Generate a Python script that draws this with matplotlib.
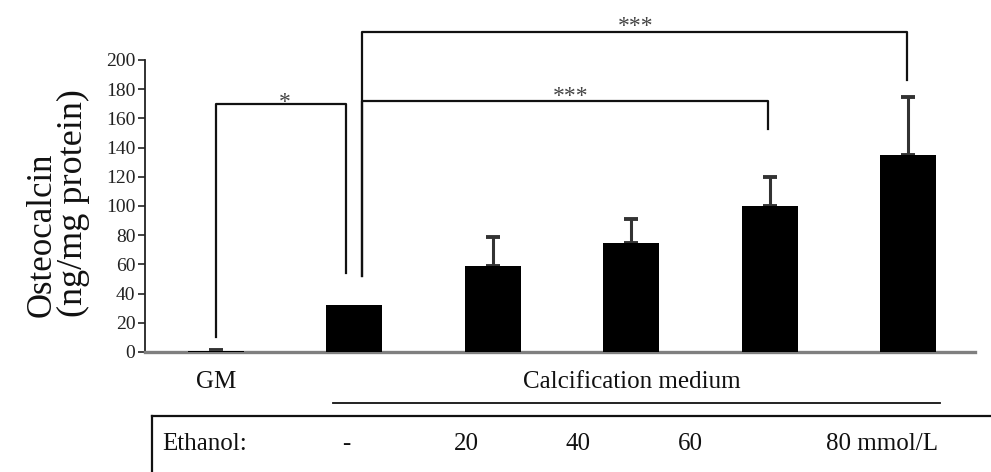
import numpy as np
import matplotlib
matplotlib.use("Agg")
import matplotlib.pyplot as plt
from matplotlib.lines import Line2D

plt.rcParams["font.family"] = ["Liberation Serif", "DejaVu Serif"]

# osteocalcin per group (ng/mg protein), upper error bars (SD)
groups = ["GM", "CM", "CM+20", "CM+40", "CM+60", "CM+80"]
means = [0.5, 32, 59, 75, 100, 135]
errors = [1.0, 0, 20, 16, 20, 40]

ethanol_row = ["Ethanol:", "-", "20", "40", "60", "80 mmol/L"]

W, H = 991, 472
fig = plt.figure(figsize=(W / 100, H / 100), dpi=100)
ax = fig.add_axes([145 / W, 1 - 352 / H, (975 - 145) / W, (352 - 60) / H])

x = np.arange(len(groups))
ax.bar(x, means, width=0.405, color="black", zorder=3)
has_err = [i for i, e in enumerate(errors) if e > 0]
ax.errorbar(x[has_err], np.array(means)[has_err],
            yerr=[np.zeros(len(has_err)), np.array(errors)[has_err]], fmt="none",
            ecolor="#333333", elinewidth=2.2, capsize=5, capthick=2.8, zorder=2)

ax.set_xlim(-0.513, 5.484)
ax.set_ylim(0, 200)
ax.set_yticks(np.arange(0, 201, 20))
ax.tick_params(axis="y", direction="out", length=5, width=1.2, pad=2,
               labelsize=14, colors="#222222")
ax.set_xticks([])
for s in ["top", "right"]:
    ax.spines[s].set_visible(False)
ax.spines["left"].set_color("#222222")
ax.spines["left"].set_linewidth(1.3)
ax.spines["bottom"].set_color("#7f7f7f")
ax.spines["bottom"].set_linewidth(2.4)


def bracket(x0, x1, y_left, y_top, y_right, label, lx, ly):
    ax.plot([x0, x0, x1, x1], [y_left, y_top, y_top, y_right], color="#111111",
            lw=1.6, clip_on=False, zorder=4)
    ax.text(lx, ly, label, ha="center", va="center", fontsize=17,
            color="#444444", clip_on=False)


bracket(0, 0.94, 10, 170, 54, "*", 0.5, 171)
bracket(1.055, 3.99, 52, 172, 153, "***", 2.56, 175)
bracket(1.055, 4.99, 52, 219, 186, "***", 3.03, 223)


def fx(px):
    return px / W


def fy(py):
    return 1 - py / H


# y axis title, two lines
fig.text(fx(42), fy(235), "Osteocalcin", rotation=90, ha="center",
         va="center", fontsize=25, color="#111111")
fig.text(fx(73), fy(203), "(ng/mg protein)", rotation=90, ha="center",
         va="center", fontsize=26, color="#111111")

fig.text(fx(216), fy(382), "GM", ha="center", va="center", fontsize=18,
         color="#111111")
fig.text(fx(632), fy(382), "Calcification medium", ha="center", va="center",
         fontsize=18, color="#111111")
fig.add_artist(Line2D([fx(333), fx(940)], [fy(403), fy(403)], color="#111111",
                      lw=1.3))

# box round the ethanol row
fig.add_artist(Line2D([fx(152), fx(991)], [fy(416), fy(416)], color="#111111",
                      lw=1.6))
fig.add_artist(Line2D([fx(152), fx(152)], [fy(416), fy(472)], color="#111111",
                      lw=1.6))

row_x = [162, 346, 466, 578, 690, 826]
for i, (lab, px) in enumerate(zip(ethanol_row, row_x)):
    fig.text(fx(px), fy(444), lab, ha="left" if i in (0, 5) else "center",
             va="center", fontsize=18, color="#111111")

fig.savefig("out.png", dpi=100)
